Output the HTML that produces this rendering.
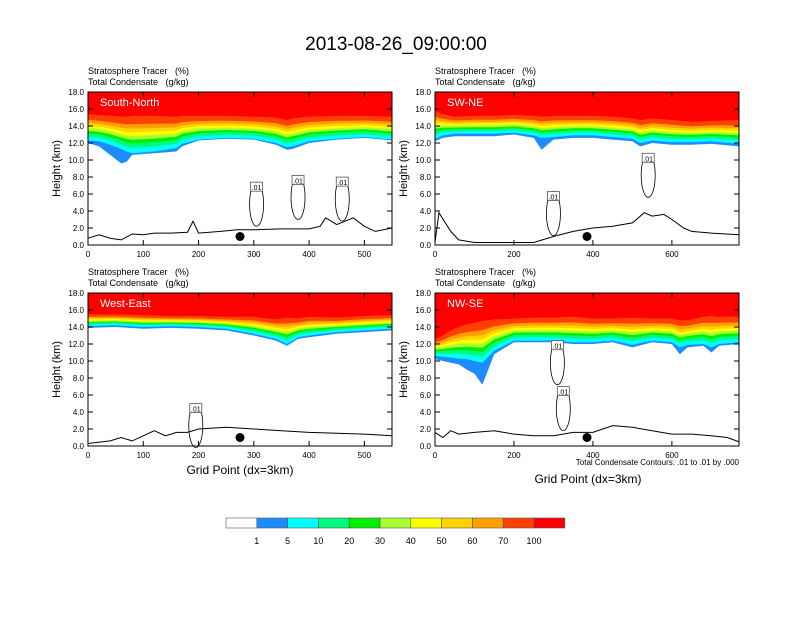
<!DOCTYPE html>
<html><head><meta charset="utf-8">
<style>
body{margin:0;background:#fff;}
svg text{font-family:"Liberation Sans",sans-serif;fill:#000;white-space:pre;}
</style></head>
<body>
<svg id="chart" width="792" height="612" viewBox="0 0 792 612" xmlns="http://www.w3.org/2000/svg">
<rect width="792" height="612" fill="#fff"/>
<text x="396" y="50" font-size="19" text-anchor="middle">2013-08-26_09:00:00</text>
<g id="panels"></g>
<g id="colorbar"></g>
<text x="240" y="474" font-size="12" text-anchor="middle">Grid Point (dx=3km)</text>
<text x="588" y="483" font-size="12" text-anchor="middle">Grid Point (dx=3km)</text>
<text x="739" y="465" font-size="8" text-anchor="end">Total Condensate Contours: .01 to .01 by .000</text>
</svg>
<script>
const colors=["#ffffff","#1e8cff","#00ffff","#00fa80","#00f000","#aaff33","#ffff00","#ffd200","#ffa000","#ff4000","#ff0000"];
const levelLabels=["1","5","10","20","30","40","50","60","70","100"];
const yTicks=[0,2,4,6,8,10,12,14,16,18];
const names=["South-North","SW-NE","West-East","NW-SE"];
const xMax=[550,770,550,770];
const xTicks=[[0,100,200,300,400,500],[0,200,400,600],[0,100,200,300,400,500],[0,200,400,600]];
const xs1=[0,20,40,60,70,80,120,160,170,200,250,300,340,360,370,400,450,500,550];
const xs2=[0,20,50,100,150,200,250,270,300,350,400,450,500,520,550,600,650,700,770];
const xs3=[0,50,100,150,200,250,300,340,360,380,400,450,500,550];
const xs4=[0,20,40,60,80,100,120,150,200,250,300,350,400,450,500,550,600,620,640,680,700,720,770];
// bottom of red (top), bottom of cyan (mid), bottom of blue (base), km
const top1=[15.4,15.3,15.2,15.1,15.1,15.2,15.2,15.1,15.2,15.2,15.2,15.1,15.0,14.7,14.9,15.1,15.2,15.2,15.1];
const mid1=[12.3,12.2,11.8,11.3,11.0,10.8,11.0,11.4,11.9,12.4,12.6,12.5,12.0,11.5,11.6,12.2,12.5,12.7,12.4];
const base1=[12.0,11.6,10.6,9.6,9.8,10.6,10.8,11.0,11.6,12.3,12.5,12.4,11.8,11.2,11.3,12.0,12.4,12.6,12.3];
const top2=[15.8,15.4,15.1,15.2,15.2,15.3,15.2,15.1,15.2,15.2,15.2,15.1,14.9,14.7,14.9,14.7,14.5,14.6,14.7];
const mid2=[12.5,12.9,13.1,13.1,13.1,13.2,12.9,12.6,12.7,12.9,12.9,12.7,12.5,12.0,12.3,12.1,12.1,12.2,11.9];
const base2=[12.2,12.6,12.8,12.8,12.8,13.0,12.6,11.2,12.4,12.6,12.6,12.4,12.2,11.6,12.0,11.8,11.8,11.9,11.6];
const top3=[15.5,15.5,15.4,15.3,15.3,15.2,15.2,14.9,15.1,15.0,15.2,15.1,15.3,15.4];
const mid3=[14.1,14.2,14.0,14.1,14.0,13.8,13.2,12.6,12.0,12.8,13.0,13.4,13.6,13.8];
const base3=[13.9,14.0,13.8,13.9,13.8,13.6,13.0,12.4,11.8,12.6,12.8,13.2,13.4,13.6];
const top4=[12.6,13.0,13.6,14.0,14.3,14.5,14.7,14.9,15.0,15.1,15.1,15.2,15.0,15.0,15.1,15.0,15.0,14.8,14.8,15.2,15.3,15.2,15.2];
const mid4=[10.6,10.5,10.4,10.3,10.2,10.0,9.8,11.2,12.4,12.4,12.4,12.2,12.2,12.4,11.9,12.4,12.2,11.6,11.9,12.0,11.6,12.0,12.2];
const base4=[10.2,10.0,9.8,9.6,9.0,8.5,7.2,10.8,12.2,12.2,12.2,12.0,12.0,12.2,11.6,12.2,12.0,10.8,11.6,11.8,11.0,11.8,12.0];
const tops=[top1,top2,top3,top4], mids=[mid1,mid2,mid3,mid4], bases=[base1,base2,base3,base4], xsAll=[xs1,xs2,xs3,xs4];
const tx1=[0,20,40,60,80,100,120,150,180,190,200,240,270,300,350,400,420,430,450,480,500,520,550];
const th1=[0.8,1.2,0.8,0.6,1.3,1.2,1.4,1.4,1.5,2.8,1.4,1.6,1.8,1.8,1.9,1.9,2.2,3.2,2.4,3.2,2.2,1.6,2.0];
const tx2=[0,10,40,60,100,150,200,250,300,350,400,450,500,530,550,580,600,630,650,700,770];
const th2=[0.3,3.8,1.6,0.6,0.3,0.3,0.3,0.3,1.0,1.6,2.0,2.2,2.6,3.8,3.4,3.6,3.0,2.0,1.6,1.4,1.2];
const tx3=[0,40,60,80,100,120,140,160,180,200,250,300,350,400,450,500,550];
const th3=[0.3,0.6,1.0,0.6,1.2,1.8,1.2,1.6,1.6,2.0,2.2,2.0,1.8,1.6,1.5,1.4,1.2];
const tx4=[0,20,40,60,100,150,200,250,300,350,400,450,500,550,600,650,700,740,770];
const th4=[1.6,1.0,1.8,1.4,1.6,1.8,1.4,1.2,1.2,1.6,1.6,2.4,2.2,1.8,1.4,1.4,1.2,1.0,0.5];
const txs=[tx1,tx2,tx3,tx4], ths=[th1,th2,th3,th4];
const labels=[[[305,6.8],[380,7.6],[460,7.4]],[[300,5.7],[540,10.2]],[[195,4.4]],[[310,11.8],[325,6.4]]];
const dot=[275,385,275,385];
const frames=[[88,92],[435,92],[88,293],[435,293]];
const W=304,H=153;
const NS="http://www.w3.org/2000/svg";
const root=document.getElementById('panels');
function mk(t,a,p){const e=document.createElementNS(NS,t);for(const k in a)e.setAttribute(k,a[k]);(p||root).appendChild(e);return e;}
for(let p=0;p<4;p++){
  const [fx,fy]=frames[p];
  const sx=v=>fx+v/xMax[p]*W, sy=v=>fy+H-v/18*H;
  const g=mk('g',{});
  
  
  const xsP=xsAll[p],tp=tops[p],md=mids[p],bs=bases[p];
  // boundary heights: level L bottom. L=10 (red) bottom = top; L=2 (cyan) bottom = mid; L=1 (blue) bottom = base
  const fr=[0,0.22,0.34,0.44,0.54,0.64,0.74,0.86,1.0]; // for L=10..2
  const bound=(L,i)=>L===1?bs[i]:tp[i]-(tp[i]-md[i])*fr[10-L];
  for(let L=1;L<=10;L++){
    let pts=[sx(0)+','+sy(18),sx(xMax[p])+','+sy(18)];
    for(let i=xsP.length-1;i>=0;i--){pts.push(sx(xsP[i])+','+sy(bound(L,i)));}
    const poly=mk('polygon',{points:pts.join(' '),fill:colors[L]},g);
    
    
  }
  const tx=txs[p],th=ths[p];
  const tl=mk('polyline',{points:tx.map((v,i)=>sx(v)+','+sy(th[i])).join(' '),fill:'none',stroke:'#000','stroke-width':1},g);
  
  
  labels[p].forEach(l=>{
    const c=mk('ellipse',{cx:sx(l[0]),cy:sy(l[1]-2),rx:7,ry:22,fill:'none',stroke:'#000','stroke-width':0.8},g);
    
    
    const r=mk('rect',{x:sx(l[0])-6,y:sy(l[1])-5,width:12,height:9,fill:'#fff',stroke:'#555','stroke-width':0.8},g);
    
    
    const t=mk('text',{x:sx(l[0]),y:sy(l[1])+3,'font-size':7,'text-anchor':'middle'},g);t.textContent='.01';
  });
  const d=mk('circle',{cx:sx(dot[p]),cy:sy(1),r:4.5,fill:'#000'},g);
  
  
  mk('rect',{x:fx,y:fy,width:W,height:H,fill:'none',stroke:'#000','stroke-width':1},g);
  const nt=mk('text',{x:fx+12,y:fy+14,'font-size':11,style:'fill:#fff'},g);nt.textContent=names[p];
  
  
  const h1=mk('text',{x:fx,y:fy-18,'font-size':9},g);h1.textContent='Stratosphere Tracer   (%)';
  const h2=mk('text',{x:fx,y:fy-7,'font-size':9},g);h2.textContent='Total Condensate   (g/kg)';
  yTicks.forEach(v=>{
    mk('line',{x1:fx,x2:fx+5,y1:sy(v),y2:sy(v),stroke:'#000'},g);
    mk('line',{x1:fx+W,x2:fx+W-5,y1:sy(v),y2:sy(v),stroke:'#000'},g);
    const t=mk('text',{x:fx-4,y:sy(v)+3,'font-size':8,'text-anchor':'end'},g);t.textContent=v.toFixed(1);
  });
  xTicks[p].forEach(v=>{
    mk('line',{x1:sx(v),x2:sx(v),y1:fy+H,y2:fy+H-5,stroke:'#000'},g);
    mk('line',{x1:sx(v),x2:sx(v),y1:fy,y2:fy+5,stroke:'#000'},g);
    const t=mk('text',{x:sx(v),y:fy+H+12,'font-size':8,'text-anchor':'middle'},g);t.textContent=v;
  });
  const yl=mk('text',{x:fx-28,y:fy+H/2,'font-size':11,'text-anchor':'middle',transform:`rotate(-90 ${fx-28} ${fy+H/2})`},g);
  yl.textContent='Height (km)';
  
  
}
const cb=document.getElementById('colorbar');
const bw=30.8;
colors.forEach((c,i)=>{
  const r=mk('rect',{x:226+i*bw,y:518,width:bw,height:10,fill:c,stroke:'#555','stroke-width':0.6},cb);
  
  
});
levelLabels.forEach((l,i)=>{
  const t=mk('text',{x:226+(i+1)*bw,y:544,'font-size':9,'text-anchor':'middle'},cb);t.textContent=l;
});
</script>
</body></html>
